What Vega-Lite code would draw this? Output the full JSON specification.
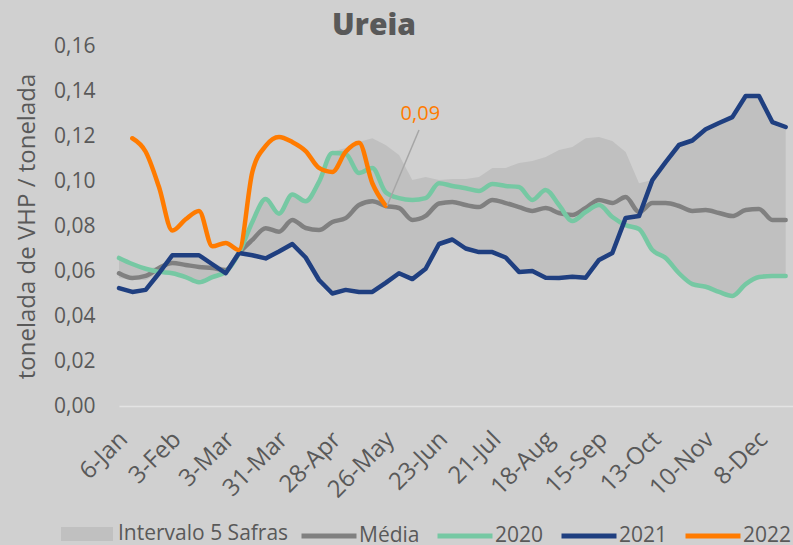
{
  "$schema": "https://vega.github.io/schema/vega-lite/v6.json",
  "width": 674,
  "height": 360,
  "autosize": {"type": "none"},
  "padding": {"left": 119, "top": 46, "right": 0, "bottom": 139},
  "background": "#d0d0d0",
  "config": {
    "view": {"stroke": null},
    "font": "Open Sans",
    "axis": {"labelColor": "#595959", "titleColor": "#595959", "labelFont": "Open Sans", "titleFont": "Open Sans"},
    "legend": {"labelColor": "#595959", "labelFont": "Open Sans", "labelLimit": 400}
  },
  "title": {
    "text": "Ureia",
    "font": "Open Sans",
    "fontSize": 30,
    "fontWeight": 800,
    "color": "#595959",
    "anchor": "middle",
    "frame": "group",
    "dx": -82,
    "offset": -6
  },
  "datasets": {
    "band": [
      {"w": 0, "lo": 0.0569, "hi": 0.0658}, {"w": 1, "lo": 0.056, "hi": 0.0631}, {"w": 2, "lo": 0.056, "hi": 0.061},
      {"w": 3, "lo": 0.059, "hi": 0.062}, {"w": 4, "lo": 0.059, "hi": 0.067}, {"w": 5, "lo": 0.0573, "hi": 0.067},
      {"w": 6, "lo": 0.055, "hi": 0.067}, {"w": 7, "lo": 0.0573, "hi": 0.064}, {"w": 8, "lo": 0.0596, "hi": 0.061},
      {"w": 9, "lo": 0.068, "hi": 0.069}, {"w": 10, "lo": 0.067, "hi": 0.0818}, {"w": 11, "lo": 0.0656, "hi": 0.092},
      {"w": 12, "lo": 0.0687, "hi": 0.0858}, {"w": 13, "lo": 0.072, "hi": 0.094}, {"w": 14, "lo": 0.066, "hi": 0.091},
      {"w": 15, "lo": 0.056, "hi": 0.0996}, {"w": 16, "lo": 0.05, "hi": 0.113}, {"w": 17, "lo": 0.0516, "hi": 0.1147},
      {"w": 18, "lo": 0.0507, "hi": 0.1173}, {"w": 19, "lo": 0.0507, "hi": 0.119}, {"w": 20, "lo": 0.0547, "hi": 0.116},
      {"w": 21, "lo": 0.059, "hi": 0.1116}, {"w": 22, "lo": 0.0564, "hi": 0.1004}, {"w": 23, "lo": 0.061, "hi": 0.1018},
      {"w": 24, "lo": 0.072, "hi": 0.1004}, {"w": 25, "lo": 0.074, "hi": 0.1009}, {"w": 26, "lo": 0.07, "hi": 0.1009},
      {"w": 27, "lo": 0.0684, "hi": 0.1018}, {"w": 28, "lo": 0.0684, "hi": 0.1058}, {"w": 29, "lo": 0.066, "hi": 0.1058},
      {"w": 30, "lo": 0.0596, "hi": 0.108}, {"w": 31, "lo": 0.06, "hi": 0.1089}, {"w": 32, "lo": 0.057, "hi": 0.1107},
      {"w": 33, "lo": 0.0569, "hi": 0.1138}, {"w": 34, "lo": 0.0574, "hi": 0.1151}, {"w": 35, "lo": 0.057, "hi": 0.119},
      {"w": 36, "lo": 0.0649, "hi": 0.1196}, {"w": 37, "lo": 0.068, "hi": 0.1178}, {"w": 38, "lo": 0.0804, "hi": 0.1129},
      {"w": 39, "lo": 0.0787, "hi": 0.099}, {"w": 40, "lo": 0.0693, "hi": 0.1004}, {"w": 41, "lo": 0.0658, "hi": 0.1084},
      {"w": 42, "lo": 0.059, "hi": 0.116}, {"w": 43, "lo": 0.0542, "hi": 0.118}, {"w": 44, "lo": 0.053, "hi": 0.123},
      {"w": 45, "lo": 0.0507, "hi": 0.1258}, {"w": 46, "lo": 0.0489, "hi": 0.1284}, {"w": 47, "lo": 0.0542, "hi": 0.1378},
      {"w": 48, "lo": 0.0573, "hi": 0.1378}, {"w": 49, "lo": 0.0578, "hi": 0.1262}, {"w": 50, "lo": 0.0578, "hi": 0.124}
    ],
    "series": [
      {"w": 0, "s": "Média", "v": 0.059}, {"w": 1, "s": "Média", "v": 0.0569}, {"w": 2, "s": "Média", "v": 0.0578},
      {"w": 3, "s": "Média", "v": 0.0613}, {"w": 4, "s": "Média", "v": 0.0636}, {"w": 5, "s": "Média", "v": 0.0627},
      {"w": 6, "s": "Média", "v": 0.0618}, {"w": 7, "s": "Média", "v": 0.0613}, {"w": 8, "s": "Média", "v": 0.0604},
      {"w": 9, "s": "Média", "v": 0.068}, {"w": 10, "s": "Média", "v": 0.0738}, {"w": 11, "s": "Média", "v": 0.079},
      {"w": 12, "s": "Média", "v": 0.0775}, {"w": 13, "s": "Média", "v": 0.0827}, {"w": 14, "s": "Média", "v": 0.0791},
      {"w": 15, "s": "Média", "v": 0.0782}, {"w": 16, "s": "Média", "v": 0.0818}, {"w": 17, "s": "Média", "v": 0.0835},
      {"w": 18, "s": "Média", "v": 0.0893}, {"w": 19, "s": "Média", "v": 0.091}, {"w": 20, "s": "Média", "v": 0.0889},
      {"w": 21, "s": "Média", "v": 0.088}, {"w": 22, "s": "Média", "v": 0.0827}, {"w": 23, "s": "Média", "v": 0.0845},
      {"w": 24, "s": "Média", "v": 0.09}, {"w": 25, "s": "Média", "v": 0.0907}, {"w": 26, "s": "Média", "v": 0.0893},
      {"w": 27, "s": "Média", "v": 0.0884}, {"w": 28, "s": "Média", "v": 0.0916}, {"w": 29, "s": "Média", "v": 0.0902},
      {"w": 30, "s": "Média", "v": 0.0884}, {"w": 31, "s": "Média", "v": 0.0867}, {"w": 32, "s": "Média", "v": 0.088},
      {"w": 33, "s": "Média", "v": 0.0858}, {"w": 34, "s": "Média", "v": 0.0849}, {"w": 35, "s": "Média", "v": 0.088},
      {"w": 36, "s": "Média", "v": 0.0916}, {"w": 37, "s": "Média", "v": 0.0902}, {"w": 38, "s": "Média", "v": 0.0929},
      {"w": 39, "s": "Média", "v": 0.0862}, {"w": 40, "s": "Média", "v": 0.0902}, {"w": 41, "s": "Média", "v": 0.0902},
      {"w": 42, "s": "Média", "v": 0.0889}, {"w": 43, "s": "Média", "v": 0.0867}, {"w": 44, "s": "Média", "v": 0.0871},
      {"w": 45, "s": "Média", "v": 0.0858}, {"w": 46, "s": "Média", "v": 0.0844}, {"w": 47, "s": "Média", "v": 0.0871},
      {"w": 48, "s": "Média", "v": 0.0876}, {"w": 49, "s": "Média", "v": 0.0827}, {"w": 50, "s": "Média", "v": 0.0827},
      {"w": 0, "s": "2020", "v": 0.0658}, {"w": 1, "s": "2020", "v": 0.0631}, {"w": 2, "s": "2020", "v": 0.061},
      {"w": 3, "s": "2020", "v": 0.0596}, {"w": 4, "s": "2020", "v": 0.059}, {"w": 5, "s": "2020", "v": 0.0573},
      {"w": 6, "s": "2020", "v": 0.055}, {"w": 7, "s": "2020", "v": 0.0573}, {"w": 8, "s": "2020", "v": 0.0596},
      {"w": 9, "s": "2020", "v": 0.068}, {"w": 10, "s": "2020", "v": 0.0818}, {"w": 11, "s": "2020", "v": 0.092},
      {"w": 12, "s": "2020", "v": 0.0855}, {"w": 13, "s": "2020", "v": 0.094}, {"w": 14, "s": "2020", "v": 0.091},
      {"w": 15, "s": "2020", "v": 0.0996}, {"w": 16, "s": "2020", "v": 0.1125}, {"w": 17, "s": "2020", "v": 0.112},
      {"w": 18, "s": "2020", "v": 0.1036}, {"w": 19, "s": "2020", "v": 0.1058}, {"w": 20, "s": "2020", "v": 0.095},
      {"w": 21, "s": "2020", "v": 0.0924}, {"w": 22, "s": "2020", "v": 0.0916}, {"w": 23, "s": "2020", "v": 0.0924},
      {"w": 24, "s": "2020", "v": 0.099}, {"w": 25, "s": "2020", "v": 0.0978}, {"w": 26, "s": "2020", "v": 0.0968},
      {"w": 27, "s": "2020", "v": 0.0956}, {"w": 28, "s": "2020", "v": 0.0987}, {"w": 29, "s": "2020", "v": 0.0978},
      {"w": 30, "s": "2020", "v": 0.0973}, {"w": 31, "s": "2020", "v": 0.0916}, {"w": 32, "s": "2020", "v": 0.096},
      {"w": 33, "s": "2020", "v": 0.0893}, {"w": 34, "s": "2020", "v": 0.0822}, {"w": 35, "s": "2020", "v": 0.0862},
      {"w": 36, "s": "2020", "v": 0.0893}, {"w": 37, "s": "2020", "v": 0.084}, {"w": 38, "s": "2020", "v": 0.0804},
      {"w": 39, "s": "2020", "v": 0.0787}, {"w": 40, "s": "2020", "v": 0.0693}, {"w": 41, "s": "2020", "v": 0.0658},
      {"w": 42, "s": "2020", "v": 0.059}, {"w": 43, "s": "2020", "v": 0.0542}, {"w": 44, "s": "2020", "v": 0.053},
      {"w": 45, "s": "2020", "v": 0.0507}, {"w": 46, "s": "2020", "v": 0.0489}, {"w": 47, "s": "2020", "v": 0.0542},
      {"w": 48, "s": "2020", "v": 0.0573}, {"w": 49, "s": "2020", "v": 0.0578}, {"w": 50, "s": "2020", "v": 0.0578},
      {"w": 0, "s": "2021", "v": 0.0524}, {"w": 1, "s": "2021", "v": 0.0507}, {"w": 2, "s": "2021", "v": 0.0516},
      {"w": 3, "s": "2021", "v": 0.059}, {"w": 4, "s": "2021", "v": 0.067}, {"w": 5, "s": "2021", "v": 0.067},
      {"w": 6, "s": "2021", "v": 0.067}, {"w": 7, "s": "2021", "v": 0.063}, {"w": 8, "s": "2021", "v": 0.059},
      {"w": 9, "s": "2021", "v": 0.068}, {"w": 10, "s": "2021", "v": 0.067}, {"w": 11, "s": "2021", "v": 0.0656},
      {"w": 12, "s": "2021", "v": 0.0687}, {"w": 13, "s": "2021", "v": 0.072}, {"w": 14, "s": "2021", "v": 0.066},
      {"w": 15, "s": "2021", "v": 0.056}, {"w": 16, "s": "2021", "v": 0.05}, {"w": 17, "s": "2021", "v": 0.0516},
      {"w": 18, "s": "2021", "v": 0.0507}, {"w": 19, "s": "2021", "v": 0.0507}, {"w": 20, "s": "2021", "v": 0.0547},
      {"w": 21, "s": "2021", "v": 0.059}, {"w": 22, "s": "2021", "v": 0.0564}, {"w": 23, "s": "2021", "v": 0.061},
      {"w": 24, "s": "2021", "v": 0.072}, {"w": 25, "s": "2021", "v": 0.074}, {"w": 26, "s": "2021", "v": 0.07},
      {"w": 27, "s": "2021", "v": 0.0684}, {"w": 28, "s": "2021", "v": 0.0684}, {"w": 29, "s": "2021", "v": 0.066},
      {"w": 30, "s": "2021", "v": 0.0596}, {"w": 31, "s": "2021", "v": 0.06}, {"w": 32, "s": "2021", "v": 0.057},
      {"w": 33, "s": "2021", "v": 0.0569}, {"w": 34, "s": "2021", "v": 0.0574}, {"w": 35, "s": "2021", "v": 0.057},
      {"w": 36, "s": "2021", "v": 0.0649}, {"w": 37, "s": "2021", "v": 0.068}, {"w": 38, "s": "2021", "v": 0.0836},
      {"w": 39, "s": "2021", "v": 0.0844}, {"w": 40, "s": "2021", "v": 0.1004}, {"w": 41, "s": "2021", "v": 0.1084},
      {"w": 42, "s": "2021", "v": 0.116}, {"w": 43, "s": "2021", "v": 0.118}, {"w": 44, "s": "2021", "v": 0.123},
      {"w": 45, "s": "2021", "v": 0.1258}, {"w": 46, "s": "2021", "v": 0.1284}, {"w": 47, "s": "2021", "v": 0.1378},
      {"w": 48, "s": "2021", "v": 0.1378}, {"w": 49, "s": "2021", "v": 0.1262}, {"w": 50, "s": "2021", "v": 0.124},
      {"w": 1, "s": "2022", "v": 0.119}, {"w": 2, "s": "2022", "v": 0.113}, {"w": 3, "s": "2022", "v": 0.0973},
      {"w": 4, "s": "2022", "v": 0.078}, {"w": 5, "s": "2022", "v": 0.083}, {"w": 6, "s": "2022", "v": 0.0867},
      {"w": 7, "s": "2022", "v": 0.071}, {"w": 8, "s": "2022", "v": 0.0725}, {"w": 9, "s": "2022", "v": 0.0693},
      {"w": 10, "s": "2022", "v": 0.104}, {"w": 11, "s": "2022", "v": 0.1156}, {"w": 12, "s": "2022", "v": 0.1196},
      {"w": 13, "s": "2022", "v": 0.1173}, {"w": 14, "s": "2022", "v": 0.1133}, {"w": 15, "s": "2022", "v": 0.1058},
      {"w": 16, "s": "2022", "v": 0.104}, {"w": 17, "s": "2022", "v": 0.113}, {"w": 18, "s": "2022", "v": 0.117},
      {"w": 19, "s": "2022", "v": 0.099}, {"w": 20, "s": "2022", "v": 0.089}
    ],
    "note": [
      {"w": 20.1, "v": 0.0889, "w2": 22.5, "v2": 0.1227, "label": "0,09", "lw": 22.6, "lv": 0.1271}
    ]
  },
  "layer": [
    {
      "data": {"name": "band"},
      "mark": {"type": "area", "opacity": 1},
      "encoding": {
        "x": {
          "field": "w", "type": "quantitative",
          "scale": {"domain": [0, 50.55], "nice": false, "zero": false},
          "axis": {
            "title": null,
            "values": [0, 4, 8, 12, 16, 20, 24, 28, 32, 36, 40, 44, 48],
            "labelExpr": "['6-Jan','3-Feb','3-Mar','31-Mar','28-Apr','26-May','23-Jun','21-Jul','18-Aug','15-Sep','13-Oct','10-Nov','8-Dec'][datum.value/4]",
            "labelAngle": -45,
            "labelAlign": "right",
            "labelBaseline": "top",
            "labelFontSize": 24,
            "labelPadding": 21,
            "labelOffset": -4,
            "labelOverlap": false,
            "labelFlush": false,
            "labelBound": false,
            "ticks": false,
            "grid": false,
            "domainColor": "#e3e3e3",
            "domainWidth": 1.5
          }
        },
        "y": {
          "field": "lo", "type": "quantitative",
          "scale": {"domain": [0, 0.16], "nice": false},
          "axis": {
            "title": "tonelada de VHP / tonelada",
            "titleFontSize": 24,
            "titleFontWeight": "normal",
            "titlePadding": 14,
            "values": [0, 0.02, 0.04, 0.06, 0.08, 0.1, 0.12, 0.14, 0.16],
            "labelExpr": "replace(format(datum.value, '.2f'), '.', ',')",
            "labelFontSize": 21,
            "labelPadding": 24,
            "ticks": false,
            "domain": false,
            "grid": false
          }
        },
        "y2": {"field": "hi"},
        "fill": {
          "datum": "Intervalo 5 Safras",
          "scale": {"domain": ["Intervalo 5 Safras"], "range": ["#c0c0c0"]},
          "legend": {
            "title": null,
            "orient": "none",
            "legendX": -58,
            "legendY": 462,
            "symbolType": "M-1,-0.27L1,-0.27L1,0.27L-1,0.27Z",
            "symbolSize": 2704,
            "symbolStrokeWidth": 0,
            "symbolOpacity": 1,
            "labelFontSize": 21,
            "labelOffset": 5
          }
        }
      }
    },
    {
      "data": {"name": "series"},
      "transform": [{"filter": "datum.s === 'Média'"}],
      "mark": {"type": "line", "interpolate": "monotone", "strokeWidth": 4.5, "strokeCap": "round", "strokeJoin": "round"},
      "encoding": {
        "x": {"field": "w", "type": "quantitative"},
        "y": {"field": "v", "type": "quantitative"},
        "stroke": {
          "field": "s", "type": "nominal",
          "scale": {"domain": ["Média", "2020", "2021", "2022"], "range": ["#808080", "#76c8a3", "#1f3f80", "#ff7b00"]},
          "legend": {
            "title": null,
            "orient": "none",
            "legendX": 180,
            "legendY": 460,
            "direction": "horizontal",
            "symbolType": "stroke",
            "symbolSize": 3025,
            "symbolStrokeWidth": 5,
            "labelFontSize": 21,
            "labelOffset": 0,
            "columnPadding": 7
          }
        }
      }
    },
    {
      "data": {"name": "series"},
      "transform": [{"filter": "datum.s === '2020'"}],
      "mark": {"type": "line", "interpolate": "monotone", "strokeWidth": 4.5, "strokeCap": "round", "strokeJoin": "round"},
      "encoding": {
        "x": {"field": "w", "type": "quantitative"},
        "y": {"field": "v", "type": "quantitative"},
        "stroke": {"field": "s", "type": "nominal"}
      }
    },
    {
      "data": {"name": "series"},
      "transform": [{"filter": "datum.s === '2021'"}],
      "mark": {"type": "line", "strokeWidth": 4.5, "strokeCap": "round", "strokeJoin": "round"},
      "encoding": {
        "x": {"field": "w", "type": "quantitative"},
        "y": {"field": "v", "type": "quantitative"},
        "stroke": {"field": "s", "type": "nominal"}
      }
    },
    {
      "data": {"name": "series"},
      "transform": [{"filter": "datum.s === '2022'"}],
      "mark": {"type": "line", "interpolate": "monotone", "strokeWidth": 4.5, "strokeCap": "round", "strokeJoin": "round"},
      "encoding": {
        "x": {"field": "w", "type": "quantitative"},
        "y": {"field": "v", "type": "quantitative"},
        "stroke": {"field": "s", "type": "nominal"}
      }
    },
    {
      "data": {"name": "note"},
      "mark": {"type": "rule", "color": "#a6a6a6", "strokeWidth": 1.5},
      "encoding": {
        "x": {"field": "w", "type": "quantitative"},
        "y": {"field": "v", "type": "quantitative"},
        "x2": {"field": "w2"},
        "y2": {"field": "v2"}
      }
    },
    {
      "data": {"name": "note"},
      "mark": {"type": "text", "color": "#ff7b00", "fontSize": 20, "font": "Open Sans", "align": "center", "baseline": "alphabetic"},
      "encoding": {
        "x": {"field": "lw", "type": "quantitative"},
        "y": {"field": "lv", "type": "quantitative"},
        "text": {"field": "label"}
      }
    }
  ]
}
